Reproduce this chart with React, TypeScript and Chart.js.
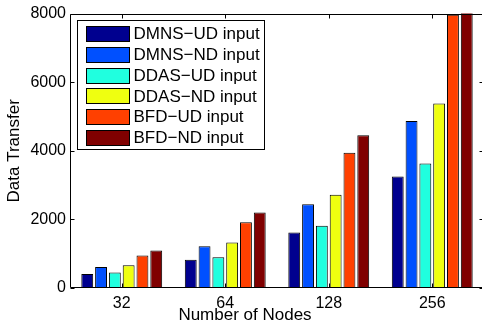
import React, { useEffect, useRef } from "react";
import { Chart, registerables } from "chart.js";

Chart.register(...registerables);

const categories = ["32", "64", "128", "256"];
const seriesLabels = [
  "DMNS\u2212UD input",
  "DMNS\u2212ND input",
  "DDAS\u2212UD input",
  "DDAS\u2212ND input",
  "BFD\u2212UD input",
  "BFD\u2212ND input",
];
const dmnsUD = [405, 820, 1620, 3250];
const dmnsND = [615, 1215, 2440, 4870];
const ddasUD = [455, 895, 1815, 3630];
const ddasND = [665, 1330, 2720, 5380];
const bfdUD = [950, 1920, 3940, 7970];
const bfdND = [1095, 2200, 4455, 8300];
const yTicks = [0, 2000, 4000, 6000, 8000];
const xTitle = "Number of Nodes";
const yTitle = "Data Transfer";

const seriesValues = [dmnsUD, dmnsND, ddasUD, ddasND, bfdUD, bfdND];
const seriesColors = ["#00008f", "#0050ff", "#20ffdf", "#efff10", "#ff4000", "#800000"];
const FONT = "'Liberation Sans', Arial, Helvetica, sans-serif";

const framePlugin = {
  id: "matlabFrame",
  afterDatasetsDraw(chart: any) {
    const { ctx, chartArea } = chart;
    const { left, right, top, bottom } = chartArea;
    const xs = chart.scales.x;
    const ys = chart.scales.y;
    ctx.save();
    ctx.strokeStyle = "#000";
    ctx.lineWidth = 1;
    const L = Math.round(left) + 0.5;
    const R = Math.round(right) - 0.5;
    const T = Math.round(top) + 0.5;
    const B = Math.round(bottom) - 0.5;
    ctx.beginPath();
    ctx.moveTo(L, T);
    ctx.lineTo(R, T);
    ctx.lineTo(R, B);
    ctx.lineTo(L, B);
    ctx.closePath();
    ctx.stroke();
    const tl = 4;
    ctx.beginPath();
    xs.ticks.forEach((_: any, i: number) => {
      const x = Math.round(xs.getPixelForTick(i)) + 0.5;
      ctx.moveTo(x, B);
      ctx.lineTo(x, B - tl);
      ctx.moveTo(x, T);
      ctx.lineTo(x, T + tl);
    });
    ys.ticks.forEach((t: any) => {
      const y = Math.round(ys.getPixelForValue(t.value)) + 0.5;
      ctx.moveTo(L, y);
      ctx.lineTo(L + tl, y);
      ctx.moveTo(R, y);
      ctx.lineTo(R - tl, y);
    });
    ctx.stroke();

    // axis titles
    ctx.fillStyle = "#000";
    ctx.font = `17px ${FONT}`;
    ctx.textAlign = "center";
    ctx.textBaseline = "middle";
    ctx.fillText(xTitle, 245, 315);
    ctx.save();
    ctx.translate(14, (top + bottom) / 2);
    ctx.rotate(-Math.PI / 2);
    ctx.fillText(yTitle, 0, 0);
    ctx.restore();

    // legend
    const bx = Math.round(left) + 7.5;
    const by = Math.round(top) + 6.5;
    const bw = 187;
    const bh = 129;
    ctx.fillStyle = "#fff";
    ctx.fillRect(bx, by, bw, bh);
    ctx.strokeStyle = "#000";
    ctx.strokeRect(bx, by, bw, bh);
    ctx.textAlign = "left";
    ctx.font = `17px ${FONT}`;
    chart.data.datasets.forEach((ds: any, i: number) => {
      const cy = by + 13 + i * 20.8;
      const sy = Math.round(cy - 7.5) + 0.5;
      ctx.fillStyle = ds.backgroundColor;
      ctx.fillRect(bx + 9, sy, 43, 15);
      ctx.strokeStyle = "#000";
      ctx.strokeRect(bx + 9, sy, 43, 15);
      ctx.fillStyle = "#000";
      ctx.fillText(ds.label, bx + 56, cy + 1);
    });
    ctx.restore();
  },
};

export default function App() {
  const ref = useRef<HTMLCanvasElement | null>(null);
  useEffect(() => {
    if (!ref.current) return;
    const chart = new Chart(ref.current, {
      type: "bar",
      data: {
        labels: categories,
        datasets: seriesValues.map((vals, i) => ({
          label: seriesLabels[i],
          data: vals,
          backgroundColor: seriesColors[i],
          borderColor: "#000",
          borderWidth: 1,
          categoryPercentage: 0.8,
          barPercentage: 0.86,
        })),
      },
      options: {
        responsive: false,
        animation: false,
        devicePixelRatio: 1,
        layout: { padding: { top: 13, right: 2, left: 0, bottom: 0 } },
        plugins: { legend: { display: false }, tooltip: { enabled: false } },
        scales: {
          x: {
            grid: { display: false, drawTicks: false },
            border: { display: false },
            ticks: { color: "#000", font: { family: FONT, size: 16 }, padding: 6 },
            afterFit: (s: any) => {
              s.height = 43;
            },
          },
          y: {
            min: 0,
            max: 8000,
            afterBuildTicks: (s: any) => {
              s.ticks = yTicks.map((v) => ({ value: v }));
            },
            grid: { display: false, drawTicks: false },
            border: { display: false },
            ticks: {
              color: "#000",
              font: { family: FONT, size: 16 },
              padding: 4,
              callback: (v: any) => String(v),
            },
            afterFit: (s: any) => {
              s.width = 70;
            },
          },
        },
      },
      plugins: [framePlugin],
    } as any);
    return () => chart.destroy();
  }, []);
  return (
    <div
      style={{
        position: "fixed",
        left: 0,
        top: 0,
        width: 482,
        height: 331,
        overflow: "hidden",
        background: "#fff",
      }}
    >
      <canvas ref={ref} width={486} height={331} style={{ display: "block" }} />
    </div>
  );
}
